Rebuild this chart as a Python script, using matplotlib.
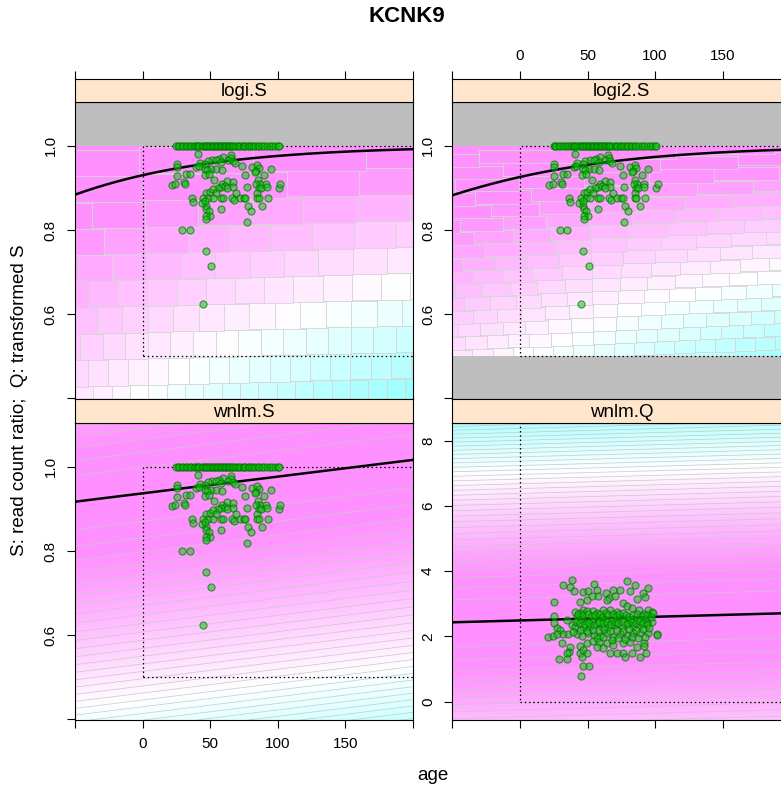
import numpy as np
import matplotlib
matplotlib.use('Agg')
import matplotlib.pyplot as plt
from matplotlib.colors import LinearSegmentedColormap
from matplotlib.collections import PolyCollection
from matplotlib.patches import Rectangle

plt.rcParams['font.family'] = ['Liberation Sans', 'DejaVu Sans']

title = 'KCNK9'
panel_names = ['logi.S', 'logi2.S', 'wnlm.S', 'wnlm.Q']
xlab = 'age'
ylab = 'S: read count ratio;  Q: transformed S'

x_ticks = [-50, 0, 50, 100, 150, 200]
x_ticklabels = ['', '0', '50', '100', '150', '']
s_ticks = [0.4, 0.6, 0.8, 1.0]
s_ticklabels = ['', '0.6', '0.8', '1.0']
q_ticks = [0, 2, 4, 6, 8]
q_ticklabels = ['0', '2', '4', '6', '8']
xlim = (-50, 200)
s_lim = (0.398, 1.105)
q_lim = (-0.56, 8.55)

# fitted models
logi_coef = (2.59, 0.0112)      # logit(S) = a + b*age
logi2_coef = (1.75, 0.0114)     # logit(2S - 1) = a + b*age
wnlm_s_coef = (0.937, 0.000398)  # S = a + b*age
wnlm_q_coef = (2.49, 0.00113)    # Q = a + b*age

# dotted box: age >= 0, 0.5 <= S <= 1 ; Q >= 0
box_s = (0, 0.5, 300, 0.5)
box_q = (0, 0, 300, 12)

# observations with S == 1
age_at_one = [25, 26, 27, 29, 30, 32, 33, 35, 36, 38, 39, 40, 41, 42, 44,
              45, 46, 47, 48, 49, 50, 51, 52, 53, 54, 55, 56, 57, 58, 59,
              60, 61, 62, 63, 64, 65, 66, 67, 68, 70, 71, 72, 74, 75, 76,
              78, 79, 80, 82, 83, 85, 86, 88, 90, 92, 94, 96, 98, 100, 101]

# observations with S < 1
age_s = [41.1, 65.2, 59.5, 56.6, 65.7, 63.2, 66.9, 51.6, 48.5, 54.6,
         42.3, 58.3, 46.5, 39.8, 41.8, 46.5, 50.9, 54.6, 58.8, 48.0,
         68.1, 73.8, 81.2, 84.8, 85.8, 83.6, 82.9, 94.7, 25.1, 25.1,
         32.0, 35.2, 25.1, 46.0, 49.2, 76.0, 90.0, 53.1, 62.7, 59.0,
         60.7, 66.9, 66.9, 62.7, 57.8, 55.8, 85.3, 86.6, 21.4, 24.3,
         30.7, 31.2, 47.2, 49.7, 52.1, 54.1, 68.9, 77.0, 84.1, 85.8,
         87.3, 91.5, 92.0, 100.8, 101.8, 84.8, 36.2, 37.4, 45.0, 44.0,
         46.7, 48.7, 46.5, 52.1, 57.8, 59.5, 66.2, 67.4, 71.8, 75.0,
         76.0, 84.8, 85.8, 88.5, 92.7, 78.0, 79.9, 57.8, 47.2, 48.9,
         50.2, 47.2, 47.2, 77.0, 29.3, 35.2, 46.7, 50.9, 45.0]
s_val = [0.980, 0.979, 0.974, 0.968, 0.972, 0.966, 0.964, 0.966, 0.964, 0.966,
         0.960, 0.962, 0.956, 0.949, 0.952, 0.946, 0.944, 0.944, 0.942, 0.942,
         0.960, 0.953, 0.950, 0.954, 0.948, 0.940, 0.937, 0.945, 0.958, 0.950,
         0.934, 0.934, 0.928, 0.930, 0.933, 0.930, 0.930, 0.918, 0.917, 0.910,
         0.904, 0.914, 0.901, 0.900, 0.903, 0.900, 0.918, 0.910, 0.906, 0.909,
         0.913, 0.910, 0.889, 0.891, 0.898, 0.889, 0.889, 0.901, 0.909, 0.899,
         0.900, 0.909, 0.901, 0.899, 0.909, 0.889, 0.876, 0.867, 0.876, 0.863,
         0.857, 0.876, 0.869, 0.876, 0.876, 0.876, 0.876, 0.871, 0.876, 0.876,
         0.876, 0.876, 0.876, 0.857, 0.876, 0.857, 0.846, 0.851, 0.850, 0.846,
         0.834, 0.834, 0.827, 0.818, 0.800, 0.800, 0.750, 0.715, 0.625]

# transformed values Q
age_q = [38.2, 32.1, 37.0, 40.2, 46.8, 50.5, 54.7, 56.7, 63.4, 69.0,
         74.0, 78.9, 85.1, 81.4, 91.2, 94.9, 92.5, 86.3, 70.3, 66.1,
         64.1, 57.4, 53.0, 49.3, 44.4, 25.1, 46.8, 44.4, 49.3, 53.7,
         56.7, 61.6, 66.6, 71.5, 75.9, 78.9, 82.6, 88.3, 94.9, 97.4,
         98.6, 91.7, 25.1, 34.5, 41.9, 43.1, 45.6, 49.3, 54.2, 57.9,
         62.9, 67.8, 71.5, 76.4, 81.4, 86.3, 92.5, 97.6, 25.1, 27.1,
         29.6, 38.2, 40.7, 46.8, 51.8, 56.7, 60.4, 65.3, 70.3, 75.2,
         80.1, 83.8, 88.8, 93.7, 21.0, 24.7, 27.6, 32.1, 35.7, 41.9,
         45.6, 50.5, 55.0, 59.2, 64.1, 69.0, 74.0, 78.9, 83.8, 88.8,
         94.9, 101.6, 101.1, 30.8, 37.0, 44.4, 49.3, 53.7, 58.7, 64.1,
         69.0, 75.9, 81.4, 86.3, 91.7, 92.0, 36.5, 34.5, 44.4, 46.8,
         49.3, 56.7, 61.6, 66.6, 71.5, 76.4, 77.7, 83.1, 88.8, 93.2,
         45.6, 29.1, 35.0, 46.8, 51.0, 44.9, 40.7, 43.1, 46.4, 50.5,
         53.0, 55.5, 59.2, 61.1, 63.6, 65.3, 68.5, 71.0, 73.5, 75.9,
         78.4, 80.9, 83.8, 86.8, 90.0, 93.7, 96.6, 41.4, 44.4, 48.1,
         51.3, 54.7, 58.7, 61.6, 64.6, 67.1, 70.3, 72.7, 75.9, 78.9,
         82.6, 85.8, 88.8, 91.2, 94.2, 58.7, 62.1, 66.6, 71.5, 76.4,
         80.9, 85.8, 91.2, 95.7, 49.3, 53.7, 44.4, 39.4, 56.7, 61.6,
         67.8, 72.7, 77.7, 82.6, 87.5, 92.5]
q_val = [3.73, 3.58, 3.53, 3.38, 3.36, 3.40, 3.61, 3.43, 3.32, 3.43,
         3.43, 3.71, 3.58, 3.38, 3.34, 3.47, 3.22, 3.14, 3.24, 3.17,
         3.12, 3.24, 3.24, 3.12, 3.06, 3.06, 2.81, 2.73, 2.79, 2.79,
         2.73, 2.81, 2.81, 2.76, 3.02, 2.92, 2.87, 2.81, 2.81, 2.76,
         2.71, 2.69, 2.63, 2.50, 2.63, 2.50, 2.55, 2.45, 2.50, 2.58,
         2.55, 2.50, 2.52, 2.58, 2.50, 2.52, 2.52, 2.45, 2.40, 2.25,
         2.20, 2.35, 2.28, 2.30, 2.32, 2.40, 2.28, 2.30, 2.35, 2.30,
         2.40, 2.32, 2.35, 2.40, 1.99, 2.01, 2.08, 2.08, 2.08, 2.08,
         2.01, 2.10, 2.05, 2.01, 2.12, 1.99, 2.07, 2.05, 2.12, 2.10,
         2.10, 2.07, 2.05, 1.79, 1.69, 1.71, 1.79, 1.87, 1.84, 1.79,
         1.74, 1.79, 1.84, 1.69, 1.79, 1.71, 1.53, 1.48, 1.48, 1.59,
         1.48, 1.69, 1.64, 1.48, 1.50, 1.50, 1.38, 1.50, 1.38, 1.48,
         1.38, 1.30, 1.30, 1.10, 1.10, 0.80, 2.76, 2.69, 2.66, 2.69,
         2.63, 2.66, 2.69, 2.61, 2.73, 2.66, 2.69, 2.63, 2.69, 2.73,
         2.66, 2.61, 2.66, 2.69, 2.63, 2.66, 2.61, 2.45, 2.40, 2.38,
         2.42, 2.35, 2.45, 2.40, 2.45, 2.38, 2.43, 2.40, 2.45, 2.38,
         2.43, 2.40, 2.48, 2.42, 2.35, 2.20, 2.22, 2.18, 2.20, 2.18,
         2.22, 2.20, 2.22, 2.25, 2.18, 2.20, 2.20, 2.15, 1.94, 1.97,
         1.89, 1.94, 1.91, 1.97, 1.94, 1.97]

# colours: cm.colors style, cyan -> white -> magenta
cmap = LinearSegmentedColormap.from_list('cmc', ['#80FFFF', '#FFFFFF', '#FF80FF'])
VMAX = 0.93


def logistic(t):
    return 1.0 / (1.0 + np.exp(-t))


def curve_logi(x):
    return logistic(logi_coef[0] + logi_coef[1] * x)


def curve_logi2(x):
    return 0.5 + 0.5 * logistic(logi2_coef[0] + logi2_coef[1] * x)


def curve_wnlm_s(x):
    return wnlm_s_coef[0] + wnlm_s_coef[1] * x


def curve_wnlm_q(x):
    return wnlm_q_coef[0] + wnlm_q_coef[1] * x


def shade_logi(curve, k_left, k_right):
    def f(x, y):
        k = k_left + (k_right - k_left) * (x - xlim[0]) / (xlim[1] - xlim[0])
        return np.clip(1 - k * np.clip(curve(x) - y, 0, None), 0, VMAX)
    return f


def shade_wnlm(curve, d_up, d_down, p):
    def f(x, y):
        d = y - curve(x)
        scale = np.where(d > 0, d_up, d_down)
        return 1 - (np.abs(d) / scale) ** p
    return f


def draw_bricks(ax, y_edges, width_fn, shift, vfun):
    polys, vals = [], []
    for k in range(len(y_edges) - 1):
        y0, y1 = y_edges[k], y_edges[k + 1]
        w = min(width_fn(0.5 * (y0 + y1)), 95)
        x0 = xlim[0] - ((k * 0.382) % 1.0) * w
        while x0 < xlim[1]:
            xc = x0 + w / 2
            dy = shift * (xc - 75)
            polys.append([(x0, y0 + dy), (x0 + w, y0 + dy),
                          (x0 + w, y1 + dy), (x0, y1 + dy)])
            vals.append(vfun(xc, 0.5 * (y0 + y1) + dy))
            x0 += w
    pc = PolyCollection(polys, facecolors=cmap(np.array(vals)),
                        edgecolors='#d6d6d6', linewidths=0.6, zorder=1)
    ax.add_collection(pc)


W, H = 781, 790
fig = plt.figure(figsize=(W / 100, H / 100), dpi=100)

col_x = [75, 452.3]
pw = 338
row_y = [(79, 101.7, 399), (399, 422.7, 720)]   # strip top, panel top, panel bottom


def fbox(x0, ytop, ybot):
    return [x0 / W, 1 - ybot / H, pw / W, (ybot - ytop) / H]


panels = [
    dict(name=panel_names[0], r=0, c=0, kind='logi', curve=curve_logi,
         shade=shade_logi(curve_logi, 0.8, 1.55),
         edges=np.arange(0.375, 1.0001, 1 / 16),
         width=lambda y: 14 / (1.08 - (y - 0.375) / 0.65), shift=0.00008),
    dict(name=panel_names[1], r=0, c=1, kind='logi', curve=curve_logi2,
         shade=shade_logi(curve_logi2, 1.0, 1.75),
         edges=np.arange(0.5, 1.0001, 1 / 32),
         width=lambda y: 16 / (1.1 - (y - 0.5) / 0.55), shift=0.00014),
    dict(name=panel_names[2], r=1, c=0, kind='wnlm', curve=curve_wnlm_s,
         shade=shade_wnlm(curve_wnlm_s, 0.72, 0.78, 1.5)),
    dict(name=panel_names[3], r=1, c=1, kind='wnlm', curve=curve_wnlm_q,
         shade=shade_wnlm(curve_wnlm_q, 6.9, 7.5, 1.6)),
]

green_face = (0.0, 0.8, 0.0, 0.5)
green_edge = (0.0, 0.45, 0.0, 0.7)

for p in panels:
    st, pt, pb = row_y[p['r']]
    x0 = col_x[p['c']]
    ax = fig.add_axes(fbox(x0, pt, pb))
    sax = fig.add_axes(fbox(x0, st, pt))
    is_q = p['name'] == 'wnlm.Q'
    ylim = q_lim if is_q else s_lim

    # background field
    gx = np.linspace(xlim[0], xlim[1], 300)
    gy = np.linspace(ylim[0], ylim[1], 300)
    X, Y = np.meshgrid(gx, gy)
    V = p['shade'](X, Y)
    ax.imshow(np.clip(V, 0, VMAX), extent=(xlim[0], xlim[1], ylim[0], ylim[1]),
              origin='lower', aspect='auto', cmap=cmap, vmin=0, vmax=1,
              interpolation='bilinear', zorder=0)
    if p['kind'] == 'logi':
        draw_bricks(ax, p['edges'], p['width'], p['shift'], p['shade'])
        ax.axhspan(1.0, 2.0, color='#BEBEBE', lw=0, zorder=2)
        if p['name'] == 'logi2.S':
            ax.axhspan(0.0, 0.5, color='#BEBEBE', lw=0, zorder=2)
    else:
        ax.contour(X, Y, V, levels=np.arange(0.025, 1.0, 0.025),
                   colors='#c8c8c8', linewidths=0.5, zorder=1)

    bx = box_q if is_q else box_s
    ax.add_patch(Rectangle((bx[0], bx[1]), bx[2], bx[3], fill=False, ec='black',
                           lw=0.9, ls=(0, (1.2, 2.2)), zorder=3))

    xs = np.linspace(xlim[0], xlim[1], 200)
    ax.plot(xs, p['curve'](xs), color='black', lw=1.8, zorder=4)

    if is_q:
        ax.scatter(age_q, q_val, s=26, fc=green_face, ec=green_edge, lw=0.8, zorder=5)
    else:
        ax.scatter(age_s, s_val, s=26, fc=green_face, ec=green_edge, lw=0.8, zorder=5)
        ax.scatter(age_at_one, np.ones(len(age_at_one)), s=26, fc=green_face,
                   ec=green_edge, lw=0.8, zorder=5)

    ax.set_xlim(xlim)
    ax.set_ylim(ylim)
    if is_q:
        ax.set_yticks(q_ticks, q_ticklabels, rotation=90, va='center')
    else:
        ax.set_yticks(s_ticks, s_ticklabels, rotation=90, va='center')
    ax.tick_params(axis='y', direction='out', length=5.5, width=0.8, pad=7,
                   labelsize=11)
    if p['r'] == 1:
        ax.set_xticks(x_ticks, x_ticklabels if p['c'] == 0 else [''] * len(x_ticks))
        ax.tick_params(axis='x', direction='out', length=5.5, width=0.8, pad=7,
                       labelsize=11)
    else:
        ax.set_xticks([])
    for sp in ax.spines.values():
        sp.set_linewidth(0.8)

    # strip
    sax.set_facecolor('#FFE5CC')
    sax.set_xlim(xlim)
    sax.set_ylim(0, 1)
    sax.set_yticks([])
    sax.text(0.5, 0.45, p['name'], transform=sax.transAxes, ha='center',
             va='center', fontsize=13.5)
    if p['r'] == 0:
        sax.xaxis.set_ticks_position('top')
        sax.set_xticks(x_ticks, x_ticklabels if p['c'] == 1 else [''] * len(x_ticks))
        sax.tick_params(axis='x', direction='out', length=5.5, width=0.8, pad=6,
                        labelsize=11)
    else:
        sax.set_xticks([])
    for sp in sax.spines.values():
        sp.set_linewidth(0.8)

fig.text(407 / W, 1 - 16 / H, title, ha='center', va='center',
         fontsize=16, fontweight='bold')
fig.text(433 / W, 1 - 775 / H, xlab, ha='center', va='center', fontsize=13.5)
fig.text(20 / W, 1 - 400 / H, ylab, ha='center', va='center', fontsize=13.5,
         rotation=90)

fig.savefig('out.png', dpi=100)
